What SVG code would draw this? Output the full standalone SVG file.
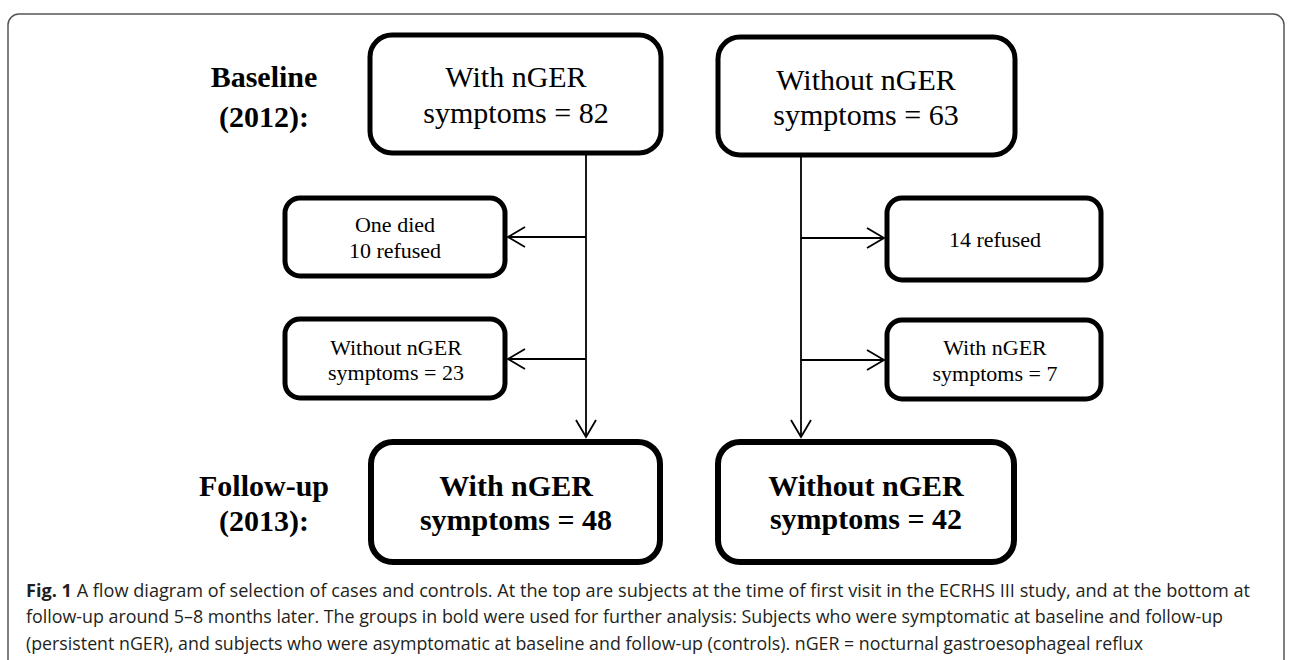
<svg xmlns="http://www.w3.org/2000/svg" width="1290" height="660" viewBox="0 0 1290 660">
<style>
.box{fill:#fff;stroke:#000;stroke-width:5}
.bold-box{fill:#fff;stroke:#000;stroke-width:6}
.side{fill:#fff;stroke:#000;stroke-width:5}
.t{font-family:"Liberation Serif","Times New Roman",serif;fill:#000;text-anchor:middle}
.big{font-size:30px}
.small{font-size:22px}
.b{font-weight:bold}
.lbl{font-family:"Liberation Serif","Times New Roman",serif;font-weight:bold;font-size:30px;text-anchor:middle;fill:#000}
.conn{stroke:#000;stroke-width:1.8;fill:none}
.cap{font-family:"Open Sans","Noto Sans","Liberation Sans",sans-serif;font-size:18px;fill:#231f20}
</style>
<defs>
<marker id="arr" markerUnits="userSpaceOnUse" markerWidth="24" markerHeight="24" viewBox="-20 -12 22 24" refX="0" refY="0" orient="auto">
<path d="M -17 -10 L 0 0 L -17 10" fill="none" stroke="#000" stroke-width="1.8"/>
</marker>
</defs>
<rect x="8" y="14" width="1276" height="720" rx="11" fill="#fff" stroke="#555" stroke-width="1.5"/>

<g id="label-baseline">
<text class="lbl" x="264" y="87">Baseline</text>
<text class="lbl" x="264" y="127">(2012):</text>
</g>
<g id="label-followup">
<text class="lbl" x="264" y="496">Follow-up</text>
<text class="lbl" x="264" y="531">(2013):</text>
</g>

<g id="connectors">
<line class="conn" x1="586" y1="155" x2="586" y2="437" marker-end="url(#arr)"/>
<line class="conn" x1="586" y1="237" x2="508" y2="237" marker-end="url(#arr)"/>
<line class="conn" x1="586" y1="359" x2="508" y2="359" marker-end="url(#arr)"/>
<line class="conn" x1="801" y1="157" x2="801" y2="437" marker-end="url(#arr)"/>
<line class="conn" x1="801" y1="238" x2="884" y2="238" marker-end="url(#arr)"/>
<line class="conn" x1="801" y1="360" x2="884" y2="360" marker-end="url(#arr)"/>
</g>

<g id="node-with-82">
<rect class="box" x="370" y="35" width="291" height="118" rx="22"/>
<text class="t big" x="516" y="87">With nGER</text>
<text class="t big" x="516" y="123">symptoms = 82</text>
</g>
<g id="node-without-63">
<rect class="box" x="718" y="37" width="297" height="118" rx="22"/>
<text class="t big" x="866" y="90">Without nGER</text>
<text class="t big" x="866" y="125">symptoms = 63</text>
</g>
<g id="node-died-refused">
<rect class="side" x="285" y="198" width="220" height="78" rx="15"/>
<text class="t small" x="395" y="232">One died</text>
<text class="t small" x="395" y="258">10 refused</text>
</g>
<g id="node-without-23">
<rect class="side" x="285" y="319" width="220" height="79" rx="15"/>
<text class="t small" x="396" y="355">Without nGER</text>
<text class="t small" x="396" y="380">symptoms = 23</text>
</g>
<g id="node-14-refused">
<rect class="side" x="887" y="198" width="214" height="82" rx="15"/>
<text class="t small" x="995" y="247">14 refused</text>
</g>
<g id="node-with-7">
<rect class="side" x="887" y="320" width="214" height="79" rx="15"/>
<text class="t small" x="995" y="355">With nGER</text>
<text class="t small" x="995" y="381">symptoms = 7</text>
</g>
<g id="node-with-48">
<rect class="bold-box" x="371" y="442" width="289" height="120" rx="22"/>
<text class="t big b" x="516" y="496">With nGER</text>
<text class="t big b" x="516" y="530">symptoms = 48</text>
</g>
<g id="node-without-42">
<rect class="bold-box" x="718" y="442" width="296" height="120" rx="22"/>
<text class="t big b" x="866" y="496">Without nGER</text>
<text class="t big b" x="866" y="529">symptoms = 42</text>
</g>

<g id="caption">
<text class="cap" x="26" y="597" textLength="1224" lengthAdjust="spacingAndGlyphs"><tspan font-weight="bold">Fig. 1</tspan> A flow diagram of selection of cases and controls. At the top are subjects at the time of first visit in the ECRHS III study, and at the bottom at</text>
<text class="cap" x="26" y="623" textLength="1197" lengthAdjust="spacingAndGlyphs">follow-up around 5–8 months later. The groups in bold were used for further analysis: Subjects who were symptomatic at baseline and follow-up</text>
<text class="cap" x="26" y="650" textLength="1117" lengthAdjust="spacingAndGlyphs">(persistent nGER), and subjects who were asymptomatic at baseline and follow-up (controls). nGER = nocturnal gastroesophageal reflux</text>
</g>
</svg>
